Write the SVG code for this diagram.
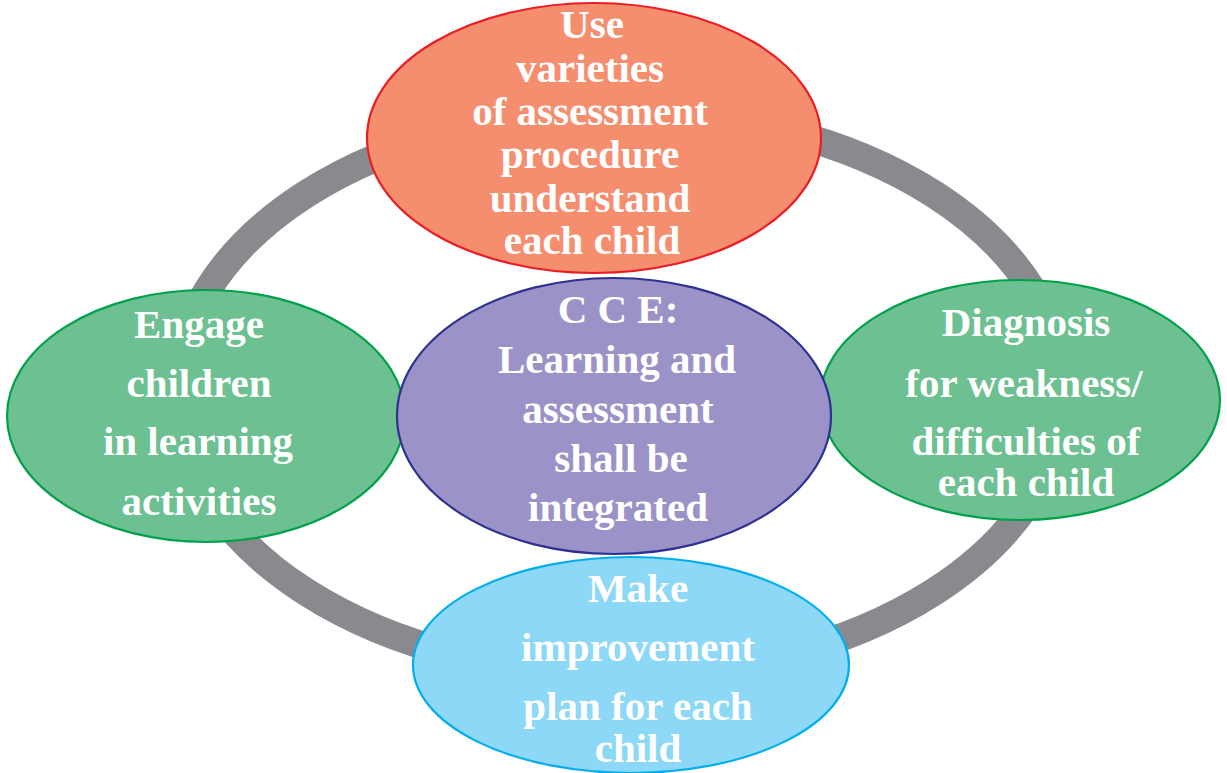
<svg xmlns="http://www.w3.org/2000/svg" width="1227" height="773" viewBox="0 0 1227 773">
  <style>
    .ring { fill: none; stroke: #898a8d; stroke-width: 28; }
    .node ellipse { stroke-width: 2.2; }
    .node text { font-family: "Liberation Serif", "Times New Roman", serif; font-weight: bold; font-size: 41px; fill: #ffffff; text-anchor: middle; }
    .top ellipse { fill: #f58e6f; stroke: #ec1c24; }
    .green ellipse { fill: #6cc091; stroke: #00a14b; }
    .hub ellipse { fill: #9b93c8; stroke: #2e3192; }
    .blue ellipse { fill: #8dd8f6; stroke: #00aeef; }
  </style>
  <rect width="1227" height="773" fill="#ffffff"/>

  <!-- cycle ring linking the outer nodes -->
  <g id="connectors">
    <ellipse class="ring" cx="620" cy="393" rx="443" ry="282"/>
  </g>

  <g id="node-assessment" class="node top">
    <ellipse cx="594" cy="138" rx="227" ry="135"/>
    <text x="592" y="38">Use</text>
    <text x="590" y="82">varieties</text>
    <text x="590" y="125">of assessment</text>
    <text x="590" y="168">procedure</text>
    <text x="590" y="212">understand</text>
    <text x="592" y="254">each child</text>
  </g>

  <g id="node-engage" class="node green">
    <ellipse cx="206" cy="416" rx="199" ry="126"/>
    <text x="199" y="338">Engage</text>
    <text x="199" y="397">children</text>
    <text x="198" y="455">in learning</text>
    <text x="199" y="515">activities</text>
  </g>

  <g id="node-diagnosis" class="node green">
    <ellipse cx="1020" cy="400" rx="200" ry="120"/>
    <text x="1026" y="336">Diagnosis</text>
    <text x="1024" y="397">for weakness/</text>
    <text x="1026" y="455">difficulties of</text>
    <text x="1026" y="496">each child</text>
  </g>

  <g id="node-improvement" class="node blue">
    <ellipse cx="631" cy="665" rx="218" ry="108"/>
    <text x="638" y="602">Make</text>
    <text x="638" y="661">improvement</text>
    <text x="638" y="720">plan for each</text>
    <text x="638" y="762">child</text>
  </g>

  <g id="node-cce" class="node hub">
    <ellipse cx="614" cy="416" rx="217" ry="138"/>
    <text x="618" y="323">C C E:</text>
    <text x="617" y="373">Learning and</text>
    <text x="618" y="423">assessment</text>
    <text x="621" y="472">shall be</text>
    <text x="618" y="521">integrated</text>
  </g>
</svg>
